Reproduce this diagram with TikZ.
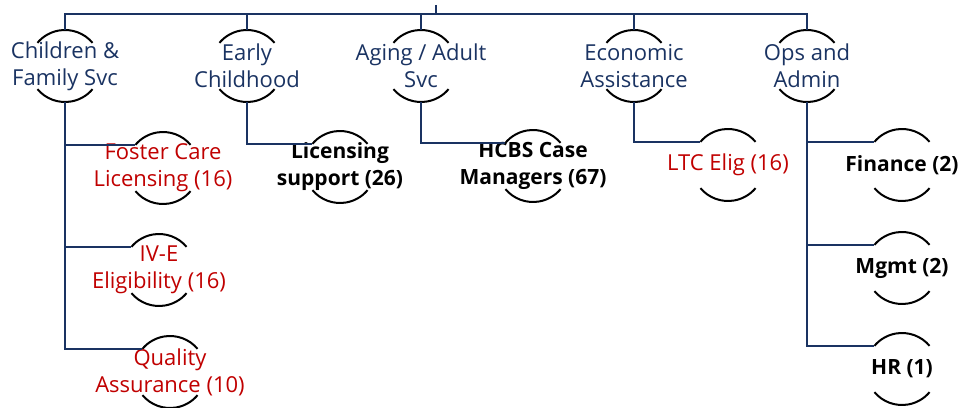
\documentclass[tikz,border=0pt]{standalone}
\usepackage{fontspec}
\setmainfont{Open Sans}
\definecolor{navy}{HTML}{1A3362}
\definecolor{darkred}{HTML}{C00000}
\begin{document}
\begin{tikzpicture}[x=1pt,y=1pt,
  ring/.style={circle,minimum size=72pt,inner sep=0pt,outer sep=0pt,draw=none},
  toptext/.style={text=navy,align=center,font=\fontsize{22}{27}\selectfont},
  redtext/.style={text=darkred,align=center,font=\fontsize{22}{27}\selectfont},
  boldtext/.style={text=black,align=center,font=\fontsize{21}{27}\selectfont\bfseries},
  conn/.style={draw=navy,line width=2.2pt},
  arcline/.style={draw=black,line width=2pt}]
\useasboundingbox (0,0) rectangle (961,407);
% top level
\node[ring] (c1) at (65,341) {};
\node[ring] (c2) at (247,341) {};
\node[ring] (c3) at (421,341) {};
\node[ring] (c4) at (634,341) {};
\node[ring] (c5) at (807,341) {};
% second level
\node[ring] (f1) at (163,239) {};
\node[ring] (f2) at (159,137) {};
\node[ring] (f3) at (170,35) {};
\node[ring] (l2) at (340,240) {};
\node[ring] (l3) at (533,241) {};
\node[ring] (l4) at (728,242) {};
\node[ring] (o1) at (902,242) {};
\node[ring] (o2) at (902,139) {};
\node[ring] (o3) at (902,38) {};
% arcs
\foreach \n in {c1,c2,c3,c4,c5,f1,f2,f3,l2,l3,l4,o1,o2,o3}{
  \draw[arcline] (\n.40) arc (40:140:36pt);
  \draw[arcline] (\n.220) arc (220:320:36pt);
}
% texts
\node[toptext] (t1) at (c1) {Children \&\\Family Svc};
\node[toptext] (t2) at (c2) {Early\\Childhood};
\node[toptext] (t3) at (c3) {Aging / Adult\\Svc};
\node[toptext] (t4) at (c4) {Economic\\Assistance};
\node[toptext] (t5) at (c5) {Ops and\\Admin};
\node[redtext] (tf1) at (f1) {Foster Care\\Licensing (16)};
\node[redtext] (tf2) at (f2) {IV-E\\Eligibility (16)};
\node[redtext] (tf3) at (f3) {Quality\\Assurance (10)};
\node[boldtext] (tl2) at (l2) {Licensing\\support (26)};
\node[boldtext] (tl3) at (l3) {HCBS Case\\Managers (67)};
\node[redtext] (tl4) at (l4) {LTC Elig (16)};
\node[boldtext] (to1) at (o1) {Finance (2)};
\node[boldtext] (to2) at (o2) {Mgmt (2)};
\node[boldtext] (to3) at (o3) {HR (1)};
% connectors
\coordinate (root) at (436,402);
\coordinate (bar) at (436,393);
\draw[conn] (root) -- (bar);
\draw[conn] (c1.north) -- (c1.north |- bar) -- (c5.north |- bar) -- (c5.north);
\foreach \n in {c2,c3,c4}{\draw[conn] (\n.north) -- (\n.north |- bar);}
\draw[conn] (c1.south) |- (f3.140);
\draw[conn] (c1.south |- f1.140) -- (f1.140);
\draw[conn] (c1.south |- f2.140) -- (f2.140);
\draw[conn] (c2.south) |- (l2.140);
\draw[conn] (c3.south) |- (l3.140);
\draw[conn] (c4.south) |- (l4.140);
\draw[conn] (c5.south) |- (o3.140);
\draw[conn] (c5.south |- o1.140) -- (o1.140);
\draw[conn] (c5.south |- o2.140) -- (o2.140);
\end{tikzpicture}
\end{document}
